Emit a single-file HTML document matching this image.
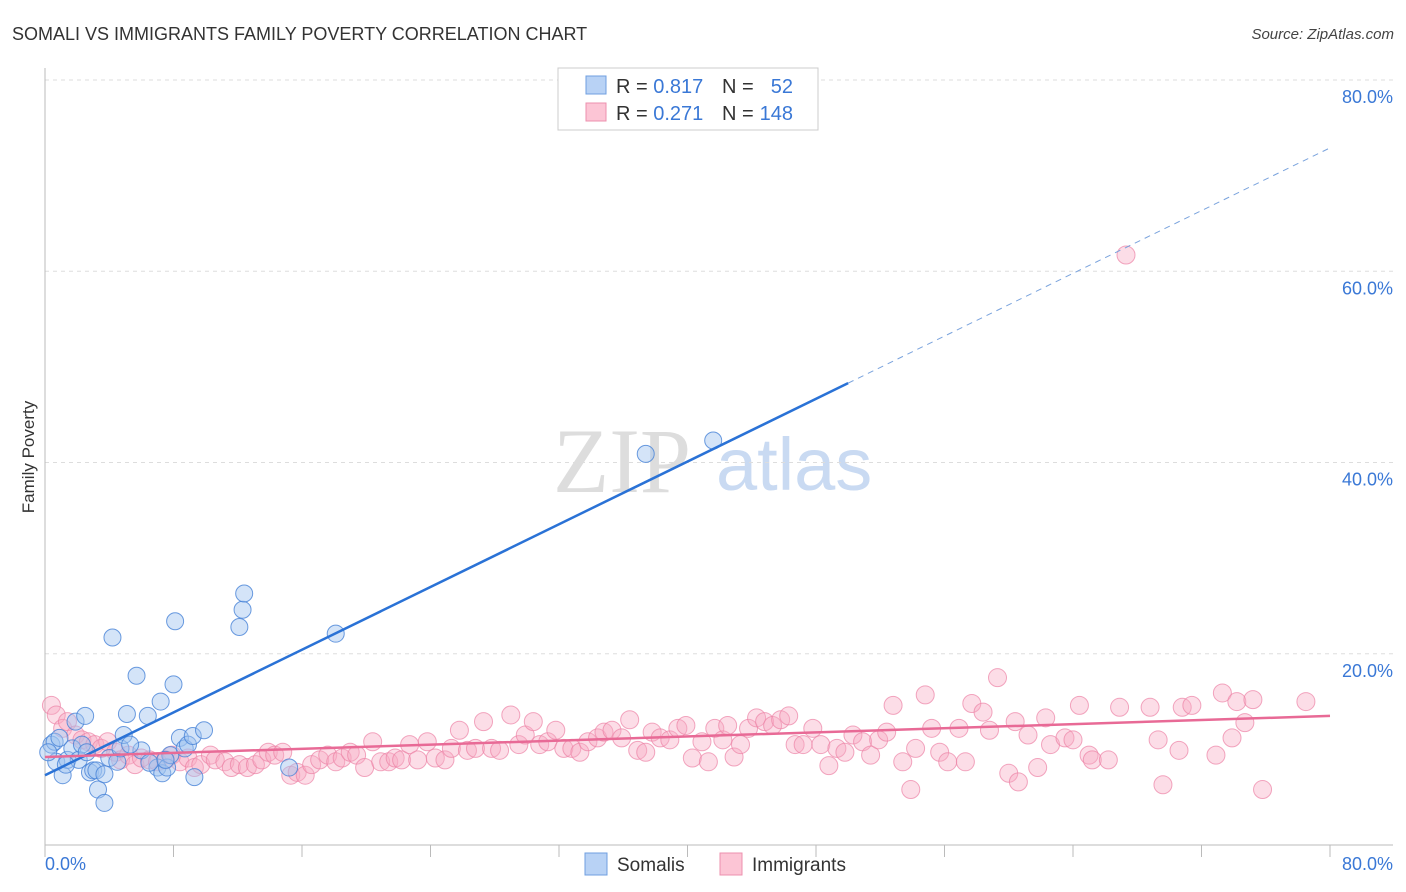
<!DOCTYPE html>
<html><head><meta charset="utf-8"><style>
body{margin:0;background:#fff;font-family:"Liberation Sans",sans-serif;}
svg{display:block}
</style></head><body>
<svg id="chart" width="1406" height="892" xmlns="http://www.w3.org/2000/svg">
<text x="12" y="40" font-size="18" fill="#333">SOMALI VS IMMIGRANTS FAMILY POVERTY CORRELATION CHART</text>
<text x="1394" y="39" font-size="15" fill="#444" font-style="italic" text-anchor="end">Source: ZipAtlas.com</text>
<g>
<text x="553" y="492" font-size="92" font-family="Liberation Serif,serif" fill="#ddd">ZIP</text>
<text x="716" y="490" font-size="74" fill="#c9daf2">atlas</text>
</g>
<text transform="translate(34,457) rotate(-90)" font-size="17" fill="#333" text-anchor="middle">Family Poverty</text>
<g id="grid"></g><g id="axes"></g><g id="pink"></g><g id="blue"></g><g id="lines"></g>
<g>
<rect x="558" y="68" width="260" height="62" fill="#fff" stroke="#ccc"/>
<rect x="586" y="76" width="20" height="18" fill="#b8d2f5" stroke="#6f9fe0"/>
<rect x="586" y="103" width="20" height="18" fill="#fcc5d5" stroke="#ec90ae"/>
<text x="616" y="93" font-size="20" fill="#333">R = <tspan fill="#3a78d6">0.817</tspan></text>
<text x="722" y="93" font-size="20" fill="#333">N = </text><text x="793" y="93" font-size="20" fill="#3a78d6" text-anchor="end">52</text>
<text x="616" y="120" font-size="20" fill="#333">R = <tspan fill="#3a78d6">0.271</tspan></text>
<text x="722" y="120" font-size="20" fill="#333">N = </text><text x="793" y="120" font-size="20" fill="#3a78d6" text-anchor="end">148</text>
</g>
<g>
<rect x="585" y="853" width="22" height="22" fill="#b8d2f5" stroke="#6f9fe0"/>
<text x="617" y="871" font-size="19" fill="#333">Somalis</text>
<rect x="720" y="853" width="22" height="22" fill="#fcc5d5" stroke="#ec90ae"/>
<text x="752" y="871" font-size="19" fill="#333">Immigrants</text>
</g>
</svg>
<script>
const blueX=[0.4,0.6,0.7,1.1,1.4,1.7,1.9,2.1,2.3,2.5,2.8,3.0,3.2,3.3,3.7,3.7,4.0,4.2,4.5,4.7,4.9,5.1,5.7,6.0,6.4,7.0,7.2,7.3,7.6,7.8,8.0,8.1,8.4,8.7,8.9,9.2,9.3,9.9,12.1,12.3,12.4,15.2,18.1,37.4,41.6,0.9,1.3,2.6,5.3,0.2,6.5,7.5];
const blueY=[10.5,10.8,8.7,7.3,8.9,10.1,12.9,8.9,10.5,13.5,7.6,7.8,7.8,5.8,4.4,7.4,9.1,21.7,8.7,10.1,11.5,13.7,17.7,9.9,13.5,8.1,15.0,7.5,8.1,9.4,16.8,23.4,11.2,10.1,10.5,11.4,7.1,12.0,22.8,24.6,26.3,8.1,22.1,40.9,42.3,11.2,8.4,9.7,10.5,9.7,8.6,8.9];
const pinkX=[0.4,0.7,1.1,1.4,1.9,2.3,2.7,3.1,3.5,3.9,4.4,4.7,5.2,5.6,6.0,6.5,7.0,7.5,7.9,8.4,8.9,9.3,9.7,10.3,10.6,11.2,11.6,12.1,12.6,13.1,13.5,13.9,14.3,14.8,15.3,15.7,16.2,16.6,17.1,17.6,18.1,18.5,19.0,19.4,19.9,20.4,20.9,21.4,21.8,22.2,22.7,23.2,23.8,24.3,24.9,25.3,25.8,26.3,26.8,27.3,27.8,28.3,29.0,29.5,29.9,30.4,30.8,31.3,31.8,32.3,32.8,33.3,33.8,34.4,34.8,35.3,35.9,36.4,36.9,37.4,37.8,38.3,38.9,39.4,39.9,40.3,40.9,41.3,41.7,42.2,42.5,42.9,43.3,43.8,44.3,44.8,45.3,45.8,46.3,46.7,47.2,47.8,48.3,48.8,49.3,49.8,50.3,50.9,51.4,51.9,52.4,52.8,53.4,53.9,54.2,54.8,55.2,55.7,56.2,56.9,57.3,57.7,58.4,58.8,59.3,60.0,60.6,60.4,61.2,61.8,62.3,62.6,63.5,64.0,64.4,65.0,65.2,66.2,66.9,67.3,68.8,69.3,69.6,70.6,70.8,71.4,72.9,73.3,73.9,74.2,74.7,75.2,75.8,78.5];
const pinkY=[14.6,13.6,12.2,12.9,11.5,11.0,10.8,10.5,10.1,10.8,9.7,8.9,9.4,8.4,9.1,8.9,8.7,8.9,9.4,8.7,9.1,8.1,8.4,9.4,8.9,8.7,8.1,8.4,8.1,8.4,8.9,9.7,9.4,9.7,7.3,7.6,7.3,8.4,8.9,9.4,8.7,9.1,9.7,9.4,8.1,10.8,8.7,8.7,9.1,8.9,10.5,8.9,10.8,9.1,8.9,10.1,12.0,9.9,10.1,12.9,10.1,9.9,13.6,10.5,11.5,12.9,10.5,10.8,12.0,10.1,10.1,9.7,10.8,11.2,11.8,12.0,11.2,13.1,9.9,9.7,11.8,11.2,11.0,12.2,12.5,9.1,10.8,8.7,12.2,11.0,12.5,9.2,10.5,12.2,13.3,12.9,12.5,13.1,13.5,10.5,10.5,12.2,10.5,8.3,10.1,9.7,11.5,10.8,9.4,11.0,11.8,14.6,8.7,5.8,10.1,15.7,12.2,9.7,8.7,12.2,8.7,14.8,13.9,12.0,17.5,7.5,6.6,12.9,11.5,8.1,13.3,10.5,11.2,11.0,14.6,9.4,8.9,8.9,14.4,61.7,14.4,11.0,6.3,9.9,14.4,14.6,9.4,15.9,11.2,15.0,12.8,15.2,5.8,15.0];
const yTicks=[20,40,60,80];
const yTickLabels=["20.0%","40.0%","60.0%","80.0%"];
const blueFit=[7.3,0.817,50,72.9];   // intercept, slope-ish, solid end x, dashed end y at 80
const pinkFit=[9.2,13.5];
const NS="http://www.w3.org/2000/svg";
const X0=45,X1=1330,Y0=845,Y80=80;
const sx=v=>X0+(X1-X0)*v/80, sy=v=>Y0-(Y0-Y80)*v/80;
function mk(tag,attrs,parent){const e=document.createElementNS(NS,tag);for(const k in attrs)e.setAttribute(k,attrs[k]);document.getElementById(parent).appendChild(e);return e;}
yTicks.forEach((t,i)=>{
 const g=mk('line',{x1:X0,x2:1393,y1:sy(t),y2:sy(t),stroke:'#ddd','stroke-dasharray':'4,4'},'grid');
 
 
 const l=mk('text',{x:1393,y:sy(t)+23,'font-size':18,fill:'#3a78d6','text-anchor':'end'},'grid');
 l.textContent=yTickLabels[i];
 
 
});
const ax=mk('line',{x1:X0,x2:X0,y1:68,y2:Y0,stroke:'#bbb'},'axes');


const bx=mk('line',{x1:X0,x2:1393,y1:Y0,y2:Y0,stroke:'#bbb'},'axes');


for(let i=0;i<=10;i++){const t=mk('line',{x1:sx(i*8),x2:sx(i*8),y1:Y0,y2:Y0+12,stroke:'#bbb'},'axes');
 
 }
const xl0=mk('text',{x:45,y:870,'font-size':18,fill:'#3a78d6'},'axes');xl0.textContent='0.0%';


const xl1=mk('text',{x:1393,y:870,'font-size':18,fill:'#3a78d6','text-anchor':'end'},'axes');xl1.textContent='80.0%';


pinkX.forEach((x,i)=>{const c=mk('circle',{cx:sx(x),cy:sy(pinkY[i]),r:9,fill:'rgba(248,170,195,0.4)',stroke:'rgba(236,130,165,0.7)','stroke-width':1},'pink');
 
 });
blueX.forEach((x,i)=>{const c=mk('circle',{cx:sx(x),cy:sy(blueY[i]),r:8.5,fill:'rgba(160,195,240,0.45)',stroke:'rgba(70,130,215,0.8)','stroke-width':1},'blue');
 
 });
const bEndY=blueFit[0]+(blueFit[3]-blueFit[0])*blueFit[2]/80;
const bl=mk('line',{x1:sx(0),y1:sy(blueFit[0]),x2:sx(blueFit[2]),y2:sy(bEndY),stroke:'#2a72d6','stroke-width':2.5},'lines');


const bd=mk('line',{x1:sx(blueFit[2]),y1:sy(bEndY),x2:sx(80),y2:sy(blueFit[3]),stroke:'#7aa3dd','stroke-width':1,'stroke-dasharray':'6,5'},'lines');


const pl=mk('line',{x1:sx(0),y1:sy(pinkFit[0]),x2:sx(80),y2:sy(pinkFit[1]),stroke:'#e86a96','stroke-width':2.5},'lines');


</script>
</body></html>
